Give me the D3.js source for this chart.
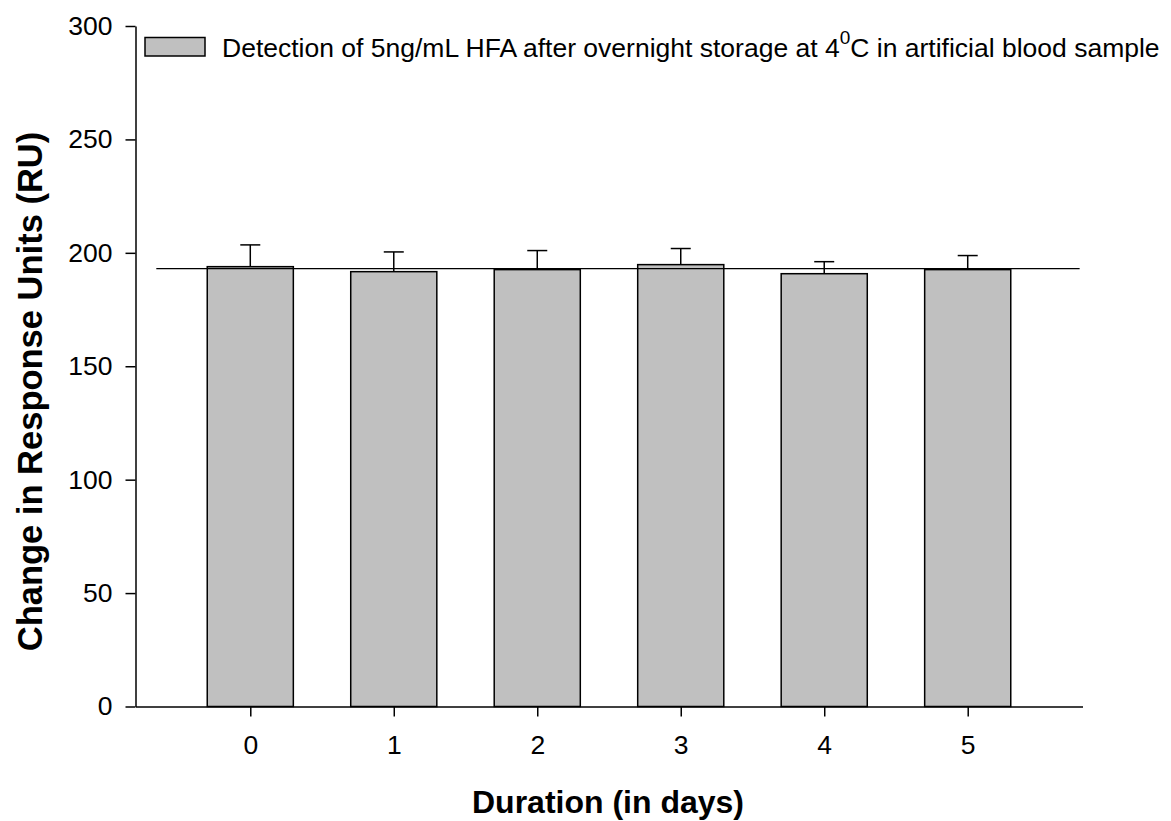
<!DOCTYPE html>
<html>
<head>
  <meta charset="utf-8">
  <title>Detection of HFA after storage</title>
  <script src="https://d3js.org/d3.v7.min.js"></script>
  <style>
    body { margin: 0; background: #fff; }
    text { font-family: "Liberation Sans", Arial, sans-serif; fill: #000; }
  </style>
</head>
<body>
<script>
// data
var days = [0, 1, 2, 3, 4, 5];
var response = [193.9, 191.7, 192.6, 194.8, 190.8, 192.6];
var errUp = [9.6, 8.7, 8.4, 7.1, 5.3, 6.2];
var refLine = 193;
var yTicks = [0, 50, 100, 150, 200, 250, 300];
var legendLabel = "Detection of 5ng/mL HFA after overnight storage at 4";

var width = 1171, height = 821;

var svg = d3.select('body').append('svg')
  .attr('width', width).attr('height', height);

// linear x so the axis can run past the outer bars like the original
var x = d3.scaleLinear().domain([-0.8, 5.8]).range([135.5, 1082.5]);
var y = d3.scaleLinear().domain([0, 300]).range([706.5, 26]);
var barW = x(0.3) - x(-0.3);

// bars
svg.selectAll('rect.bar')
  .data(days)
  .enter()
  .append('rect')
  .attr('class', 'bar')
  .attr('x', function(d) { return x(d) - barW / 2; })
  .attr('y', function(d, i) { return y(response[i]); })
  .attr('width', barW)
  .attr('height', function(d, i) { return y(0) - y(response[i]); })
  .attr('fill', '#c0c0c0')
  .attr('stroke', '#000')
  .attr('stroke-width', 1.5);

// error bars (upper only)
var err = svg.append('g').attr('stroke', '#000').attr('stroke-width', 1.5);
err.selectAll('line.stem')
  .data(days)
  .enter()
  .append('line')
  .attr('x1', function(d) { return x(d); })
  .attr('x2', function(d) { return x(d); })
  .attr('y1', function(d, i) { return y(response[i]); })
  .attr('y2', function(d, i) { return y(response[i] + errUp[i]); });
err.selectAll('line.cap')
  .data(days)
  .enter()
  .append('line')
  .attr('x1', function(d) { return x(d) - 10; })
  .attr('x2', function(d) { return x(d) + 10; })
  .attr('y1', function(d, i) { return y(response[i] + errUp[i]); })
  .attr('y2', function(d, i) { return y(response[i] + errUp[i]); });

// horizontal reference line
svg.append('line')
  .attr('x1', x(-0.655)).attr('x2', x(5.78))
  .attr('y1', y(refLine)).attr('y2', y(refLine))
  .attr('stroke', '#000').attr('stroke-width', 1.2);

// axes
var yAxis = svg.append('g')
  .attr('transform', 'translate(' + x(-0.8) + ',0)')
  .call(d3.axisLeft(y).tickValues(yTicks).tickSize(10).tickSizeOuter(0)
    .tickPadding(13).tickFormat(d3.format('d')));
var xAxis = svg.append('g')
  .attr('transform', 'translate(0,' + y(0) + ')')
  .call(d3.axisBottom(x).tickValues(days).tickSize(10).tickSizeOuter(0)
    .tickPadding(19).tickFormat(d3.format('d')));

[yAxis, xAxis].forEach(function(a) {
  a.attr('font-size', null).attr('font-family', null);
  a.select('.domain').attr('stroke-width', 1.5);
  a.selectAll('.tick line').attr('stroke-width', 1.5);
  a.selectAll('.tick text').style('font-size', '26.5px');
});

// axis titles
svg.append('text')
  .attr('transform', 'translate(42,391.5) rotate(-90)')
  .attr('text-anchor', 'middle')
  .style('font-size', '34.5px')
  .attr('font-weight', 'bold')
  .text('Change in Response Units (RU)');

svg.append('text')
  .attr('x', 608).attr('y', 812.5)
  .attr('text-anchor', 'middle')
  .style('font-size', '32px')
  .attr('font-weight', 'bold')
  .text('Duration (in days)');

// legend
svg.append('rect')
  .attr('x', 145).attr('y', 37.5)
  .attr('width', 60).attr('height', 18.5)
  .attr('fill', '#c0c0c0')
  .attr('stroke', '#000')
  .attr('stroke-width', 1.5);

var lg = svg.append('text')
  .attr('x', 222).attr('y', 56.5)
  .style('font-size', '26.5px');
lg.append('tspan').text(legendLabel);
lg.append('tspan').attr('dy', -12.5).style('font-size', '19px').text('0');
lg.append('tspan').attr('dy', 12.5).text('C in artificial blood sample');
</script>
</body>
</html>
